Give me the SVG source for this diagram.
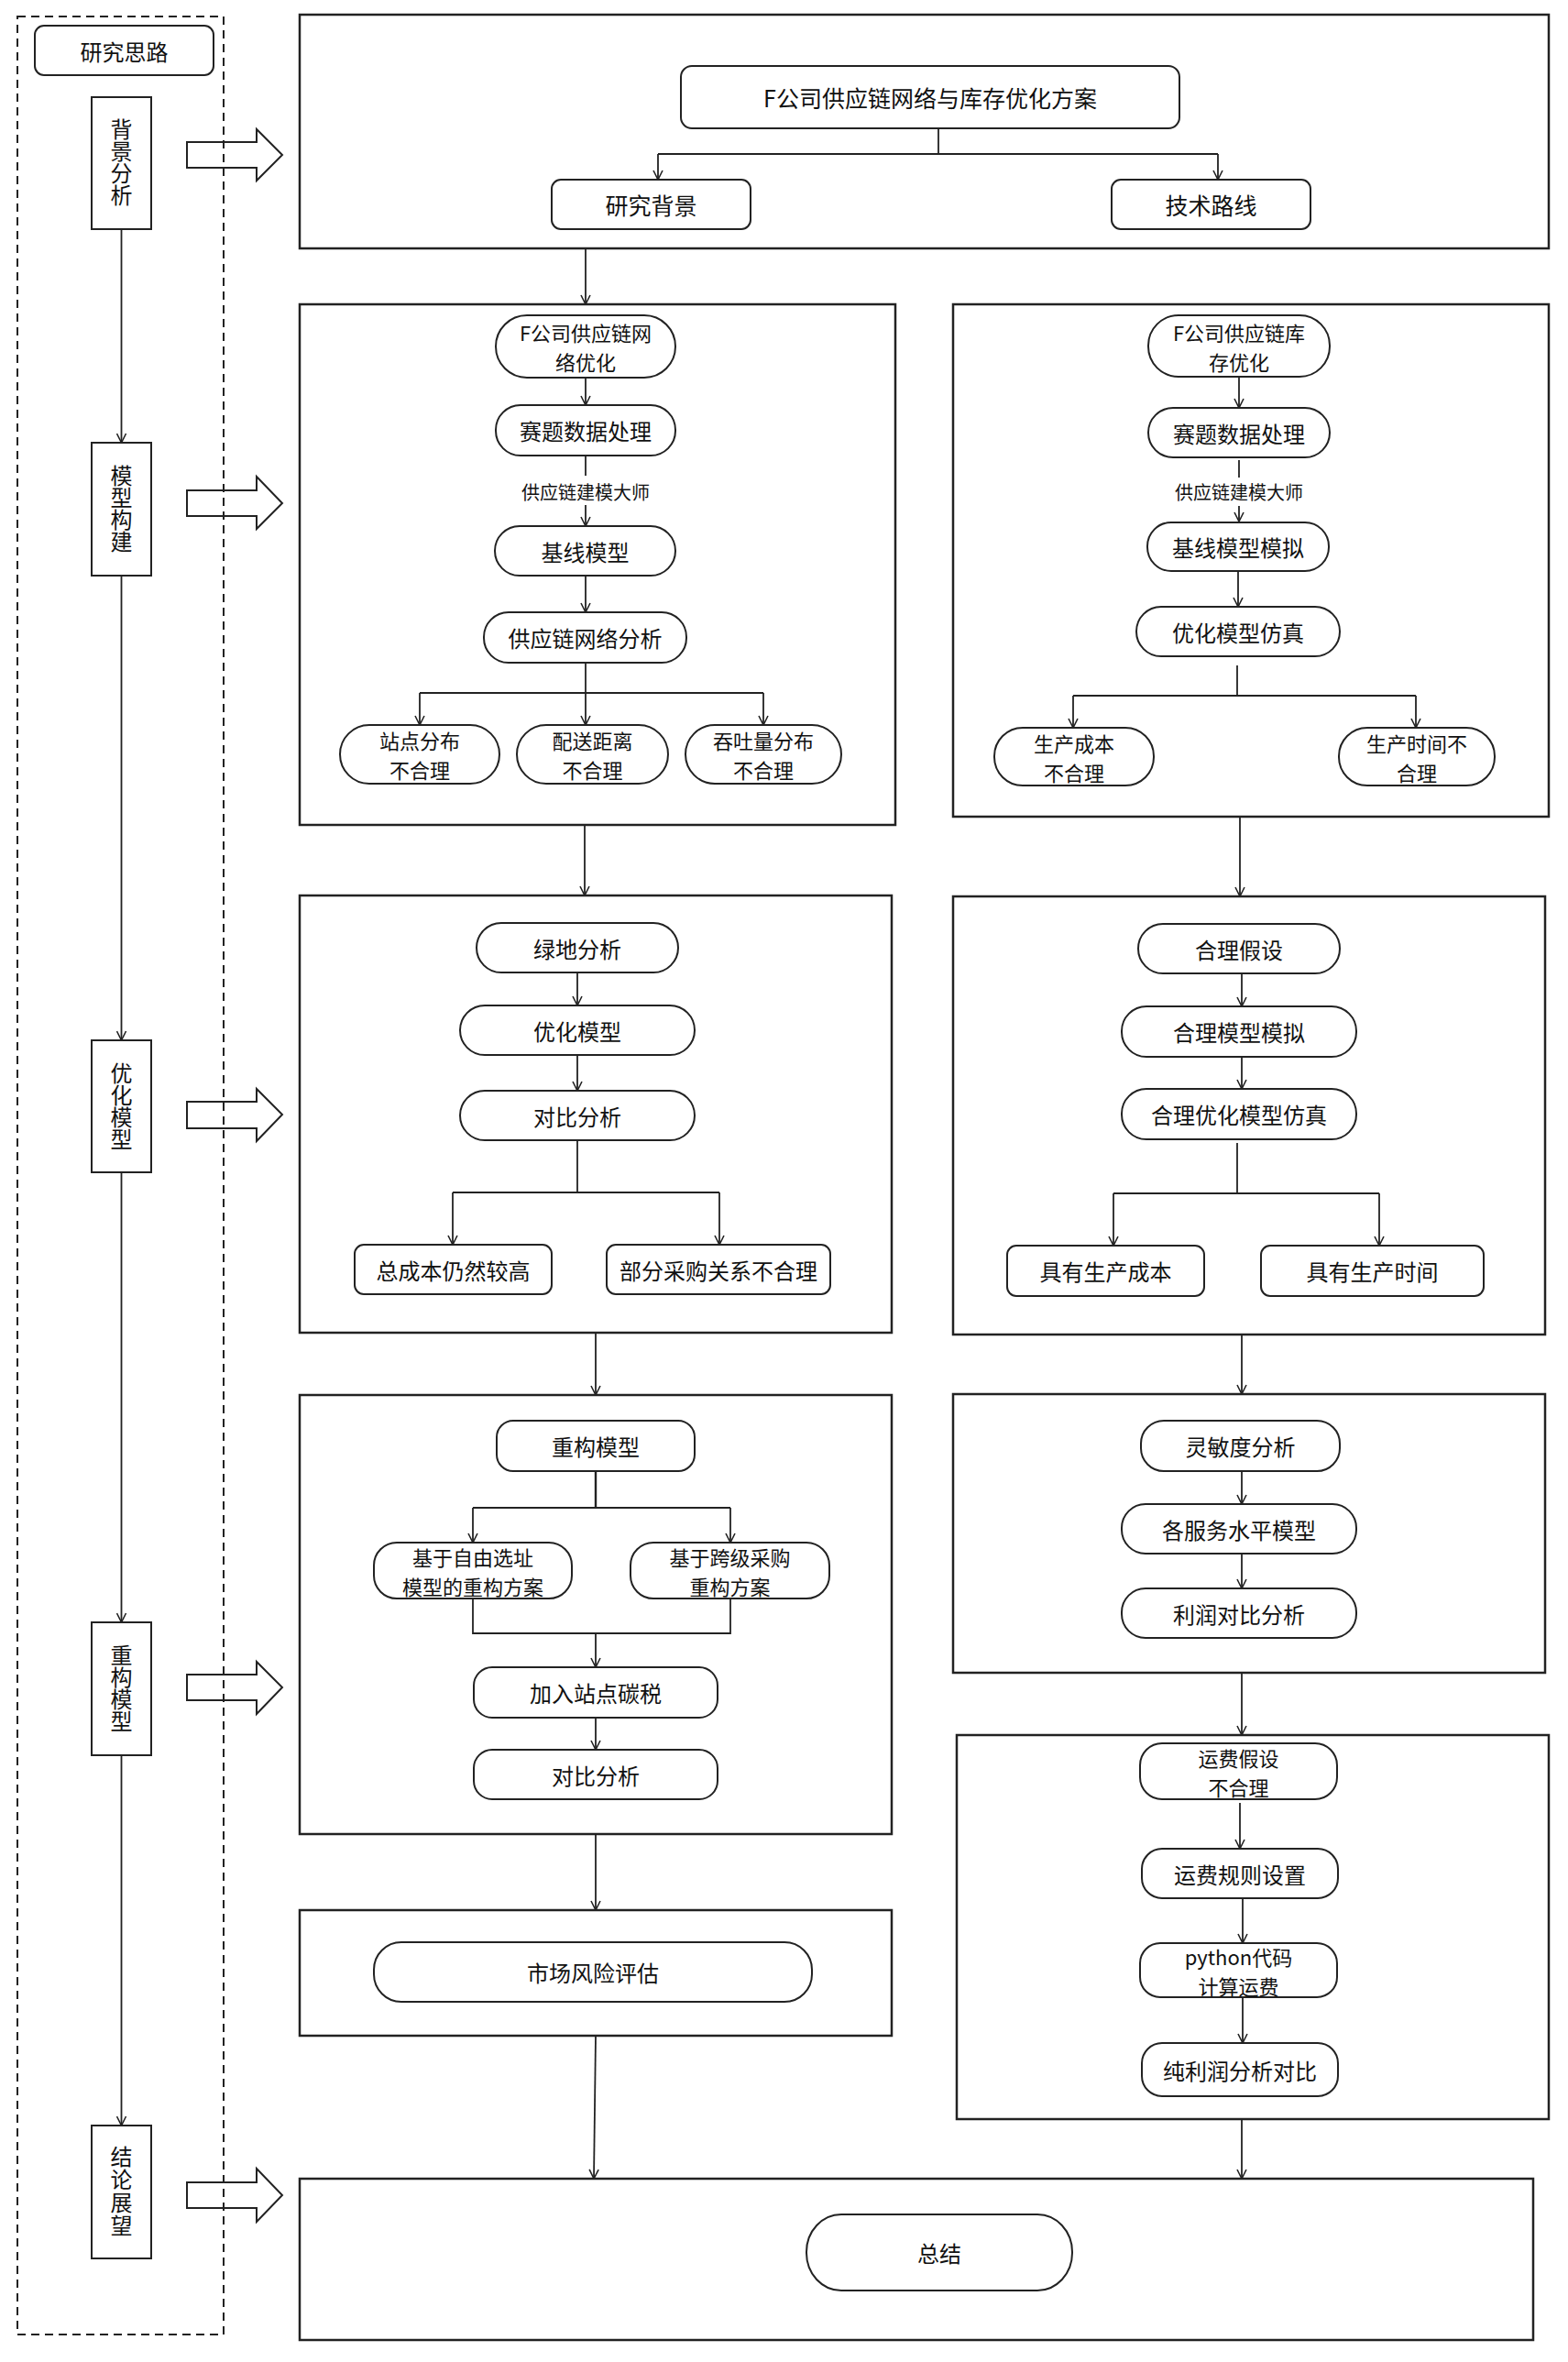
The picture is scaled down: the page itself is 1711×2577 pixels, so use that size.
<svg xmlns="http://www.w3.org/2000/svg" width="1711" height="2577" viewBox="0 0 1711 2577">
<defs>
<style>
.bg{fill:#fff}
.box{fill:none;stroke:#222;stroke-width:2.5}
.nd{fill:#fff;stroke:#222;stroke-width:2}
.side{fill:#fff;stroke:#222;stroke-width:2}
.dash{fill:none;stroke:#222;stroke-width:2;stroke-dasharray:9 6}
.blk{fill:none;stroke:#222;stroke-width:2}
.ln{fill:none;stroke:#222;stroke-width:1.8}
.ar{fill:none;stroke:#222;stroke-width:1.8;marker-end:url(#ah)}
text{font-family:"Noto Sans CJK SC","Noto Sans",sans-serif;fill:#111;text-anchor:middle;dominant-baseline:central}
.t{font-size:24px}
.t2{font-size:22px}
.tt{font-size:25px}
.s{font-size:20px}
.v{font-size:24px;writing-mode:vertical-rl}
</style>
<marker id="ah" viewBox="0 0 12 12" refX="11" refY="6" markerWidth="12" markerHeight="12" markerUnits="userSpaceOnUse" orient="auto">
<path d="M1,1 L11,6 L1,11" fill="none" stroke="#222" stroke-width="1.6"/>
</marker>
</defs>
<rect class="bg" x="0" y="0" width="1711" height="2577"/>

<!-- Left panel -->
<g id="left-panel">
<rect class="dash" x="19" y="18" width="225" height="2529"/>
</g>
<g id="n-yjsl"><rect class="nd" x="38" y="28" width="195" height="54" rx="10"/><text class="t" x="135.5" y="55">研究思路</text></g>
<g id="s-bjfx"><rect class="side" x="100" y="106" width="65" height="144"/><text class="v" x="132.5" y="177">背景分析</text></g>
<g id="s-mxgj"><rect class="side" x="100" y="483" width="65" height="145"/><text class="v" x="132.5" y="555">模型构建</text></g>
<g id="s-yhmx"><rect class="side" x="100" y="1135" width="65" height="144"/><text class="v" x="132.5" y="1207">优化模型</text></g>
<g id="s-cgmx"><rect class="side" x="100" y="1770" width="65" height="145"/><text class="v" x="132.5" y="1842">重构模型</text></g>
<g id="s-jlzw"><rect class="side" x="100" y="2319" width="65" height="145"/><text class="v" x="132.5" y="2391" style="letter-spacing:1px">结论展望</text></g>

<g id="block-arrows">
<polygon class="blk" points="204,155 280,155 280,141 308,169 280,197 280,183 204,183"/>
<polygon class="blk" points="204,535 280,535 280,520 308,549 280,577 280,563 204,563"/>
<polygon class="blk" points="204,1202 280,1202 280,1188 308,1216 280,1245 280,1231 204,1231"/>
<polygon class="blk" points="204,1827 280,1827 280,1813 308,1841 280,1870 280,1855 204,1855"/>
<polygon class="blk" points="204,2381 280,2381 280,2366 308,2395 280,2424 280,2409 204,2409"/>
</g>

<!-- Container boxes -->
<g id="containers">
<rect class="box" x="327" y="16" width="1363" height="255"/>
<rect class="box" x="327" y="332" width="650" height="568"/>
<rect class="box" x="1040" y="332" width="650" height="559"/>
<rect class="box" x="327" y="977" width="646" height="477"/>
<rect class="box" x="1040" y="978" width="646" height="478"/>
<rect class="box" x="327" y="1522" width="646" height="479"/>
<rect class="box" x="1040" y="1521" width="646" height="304"/>
<rect class="box" x="327" y="2084" width="646" height="137"/>
<rect class="box" x="1044" y="1893" width="646" height="419"/>
<rect class="box" x="327" y="2377" width="1346" height="176"/>
</g>

<!-- Top box nodes -->
<g id="n-title"><rect class="nd" x="743" y="72" width="544" height="68" rx="12"/><text class="tt" x="1015" y="106">F公司供应链网络与库存优化方案</text></g>
<g id="n-yjbj"><rect class="nd" x="602" y="196" width="217" height="54" rx="10"/><text class="tt" x="710.5" y="223">研究背景</text></g>
<g id="n-jslx"><rect class="nd" x="1213" y="196" width="217" height="54" rx="10"/><text class="tt" x="1321.5" y="223">技术路线</text></g>

<!-- Left box 2 -->
<g id="n-l1"><rect class="nd" x="541" y="344" width="196" height="68" rx="34"/><text class="t2" x="639" y="362">F公司供应链网<tspan x="639" dy="32">络优化</tspan></text></g>
<g id="n-l2"><rect class="nd" x="541" y="442" width="196" height="55" rx="27"/><text class="t" x="639" y="469.5">赛题数据处理</text></g>
<g id="n-l3"><rect class="nd" x="540" y="574" width="197" height="54" rx="27"/><text class="t" x="638.5" y="601">基线模型</text></g>
<g id="n-l4"><rect class="nd" x="528" y="668" width="221" height="55" rx="27"/><text class="t" x="638.5" y="695.5">供应链网络分析</text></g>
<g id="n-l5"><rect class="nd" x="371" y="791" width="174" height="64" rx="32"/><text class="t2" x="458" y="807">站点分布<tspan x="458" dy="32">不合理</tspan></text></g>
<g id="n-l6"><rect class="nd" x="564" y="791" width="165" height="64" rx="32"/><text class="t2" x="646.5" y="807">配送距离<tspan x="646.5" dy="32">不合理</tspan></text></g>
<g id="n-l7"><rect class="nd" x="748" y="791" width="170" height="64" rx="32"/><text class="t2" x="833" y="807">吞吐量分布<tspan x="833" dy="32">不合理</tspan></text></g>

<!-- Right box 2 -->
<g id="n-r1"><rect class="nd" x="1253" y="344" width="198" height="67" rx="33"/><text class="t2" x="1352" y="361.5">F公司供应链库<tspan x="1352" dy="32">存优化</tspan></text></g>
<g id="n-r2"><rect class="nd" x="1253" y="445" width="198" height="54" rx="27"/><text class="t" x="1352" y="472">赛题数据处理</text></g>
<g id="n-r3"><rect class="nd" x="1252" y="570" width="198" height="53" rx="26"/><text class="t" x="1351" y="596.5">基线模型模拟</text></g>
<g id="n-r4"><rect class="nd" x="1240" y="662" width="222" height="54" rx="27"/><text class="t" x="1351" y="689">优化模型仿真</text></g>
<g id="n-r5"><rect class="nd" x="1085" y="794" width="174" height="63" rx="31"/><text class="t2" x="1172" y="809.5">生产成本<tspan x="1172" dy="32">不合理</tspan></text></g>
<g id="n-r6"><rect class="nd" x="1461" y="794" width="170" height="63" rx="31"/><text class="t2" x="1546" y="809.5">生产时间不<tspan x="1546" dy="32">合理</tspan></text></g>

<!-- Left box 3 -->
<g id="n-l8"><rect class="nd" x="520" y="1007" width="220" height="54" rx="27"/><text class="t" x="630" y="1034">绿地分析</text></g>
<g id="n-l9"><rect class="nd" x="502" y="1097" width="256" height="54" rx="27"/><text class="t" x="630" y="1124">优化模型</text></g>
<g id="n-l10"><rect class="nd" x="502" y="1190" width="256" height="54" rx="27"/><text class="t" x="630" y="1217">对比分析</text></g>
<g id="n-l11"><rect class="nd" x="387" y="1358" width="215" height="54" rx="10"/><text class="t" x="494.5" y="1385">总成本仍然较高</text></g>
<g id="n-l12"><rect class="nd" x="662" y="1358" width="244" height="54" rx="10"/><text class="t" x="784" y="1385">部分采购关系不合理</text></g>

<!-- Right box 3 -->
<g id="n-r7"><rect class="nd" x="1242" y="1008" width="220" height="54" rx="27"/><text class="t" x="1352" y="1035">合理假设</text></g>
<g id="n-r8"><rect class="nd" x="1224" y="1098" width="256" height="55" rx="27"/><text class="t" x="1352" y="1125.5">合理模型模拟</text></g>
<g id="n-r9"><rect class="nd" x="1224" y="1188" width="256" height="55" rx="27"/><text class="t" x="1352" y="1215.5">合理优化模型仿真</text></g>
<g id="n-r10"><rect class="nd" x="1099" y="1359" width="215" height="55" rx="10"/><text class="t" x="1206.5" y="1386.5">具有生产成本</text></g>
<g id="n-r11"><rect class="nd" x="1376" y="1359" width="243" height="55" rx="10"/><text class="t" x="1497.5" y="1386.5">具有生产时间</text></g>

<!-- Left box 4 -->
<g id="n-l13"><rect class="nd" x="542" y="1550" width="216" height="55" rx="18"/><text class="t" x="650" y="1577.5">重构模型</text></g>
<g id="n-l14"><rect class="nd" x="408" y="1683" width="216" height="61" rx="25"/><text class="t2" x="516" y="1697.5">基于自由选址<tspan x="516" dy="32">模型的重构方案</tspan></text></g>
<g id="n-l15"><rect class="nd" x="688" y="1683" width="217" height="61" rx="25"/><text class="t2" x="796.5" y="1697.5">基于跨级采购<tspan x="796.5" dy="32">重构方案</tspan></text></g>
<g id="n-l16"><rect class="nd" x="517" y="1819" width="266" height="55" rx="20"/><text class="t" x="650" y="1846.5">加入站点碳税</text></g>
<g id="n-l17"><rect class="nd" x="517" y="1909" width="266" height="54" rx="20"/><text class="t" x="650" y="1936">对比分析</text></g>

<!-- Right box 4 -->
<g id="n-r12"><rect class="nd" x="1245" y="1550" width="217" height="55" rx="25"/><text class="t" x="1353.5" y="1577.5">灵敏度分析</text></g>
<g id="n-r13"><rect class="nd" x="1224" y="1641" width="256" height="54" rx="26"/><text class="t" x="1352" y="1668">各服务水平模型</text></g>
<g id="n-r14"><rect class="nd" x="1224" y="1733" width="256" height="54" rx="26"/><text class="t" x="1352" y="1760">利润对比分析</text></g>

<!-- Left box 5 -->
<g id="n-l18"><rect class="nd" x="408" y="2119" width="478" height="65" rx="30"/><text class="t" x="647" y="2151.5">市场风险评估</text></g>

<!-- Right box 5 -->
<g id="n-r15"><rect class="nd" x="1244" y="1902" width="215" height="61" rx="24"/><text class="t2" x="1351.5" y="1916.5">运费假设<tspan x="1351.5" dy="32">不合理</tspan></text></g>
<g id="n-r16"><rect class="nd" x="1246" y="2017" width="214" height="54" rx="22"/><text class="t" x="1353" y="2044">运费规则设置</text></g>
<g id="n-r17"><rect class="nd" x="1244" y="2120" width="215" height="59" rx="22"/><text class="t2" x="1351.5" y="2133.5">python代码<tspan x="1351.5" dy="32">计算运费</tspan></text></g>
<g id="n-r18"><rect class="nd" x="1246" y="2229" width="214" height="58" rx="22"/><text class="t" x="1353" y="2258">纯利润分析对比</text></g>

<!-- Final box -->
<g id="n-zj"><rect class="nd" x="880" y="2416" width="290" height="83" rx="38" ry="41"/><text class="t" x="1025" y="2457.5">总结</text></g>

<!-- Connectors -->
<g id="connectors">
<line class="ar" x1="132.5" y1="250" x2="132.5" y2="483"/>
<line class="ar" x1="132.5" y1="628" x2="132.5" y2="1135"/>
<line class="ar" x1="132.5" y1="1279" x2="132.5" y2="1770"/>
<line class="ar" x1="132.5" y1="1915" x2="132.5" y2="2319"/>
<polyline class="ln" points="1024,140 1024,168"/>
<polyline class="ln" points="718,168 1329,168"/>
<line class="ar" x1="718" y1="168" x2="718" y2="196"/>
<line class="ar" x1="1329" y1="168" x2="1329" y2="196"/>
<line class="ar" x1="639" y1="271" x2="639" y2="332"/>
<line class="ar" x1="639" y1="412" x2="639" y2="442"/>
<line class="ln" x1="639" y1="497" x2="639" y2="519"/>
<text class="s" x="639" y="536">供应链建模大师</text>
<line class="ar" x1="639" y1="551" x2="639" y2="574"/>
<line class="ar" x1="639" y1="628" x2="639" y2="668"/>
<line class="ln" x1="639" y1="723" x2="639" y2="756"/>
<polyline class="ln" points="458,756 833,756"/>
<line class="ar" x1="458" y1="756" x2="458" y2="791"/>
<line class="ar" x1="639" y1="756" x2="639" y2="791"/>
<line class="ar" x1="833" y1="756" x2="833" y2="791"/>
<line class="ar" x1="638" y1="900" x2="638" y2="977"/>
<line class="ar" x1="1352" y1="411" x2="1352" y2="445"/>
<line class="ln" x1="1352" y1="502" x2="1352" y2="521"/>
<text class="s" x="1352" y="536">供应链建模大师</text>
<line class="ar" x1="1352" y1="552" x2="1352" y2="569"/>
<line class="ar" x1="1351" y1="623" x2="1351" y2="662"/>
<line class="ln" x1="1350" y1="726" x2="1350" y2="759"/>
<polyline class="ln" points="1171,759 1545,759"/>
<line class="ar" x1="1171" y1="759" x2="1171" y2="794"/>
<line class="ar" x1="1545" y1="759" x2="1545" y2="794"/>
<line class="ar" x1="1353" y1="891" x2="1353" y2="978"/>
<line class="ar" x1="630" y1="1061" x2="630" y2="1097"/>
<line class="ar" x1="630" y1="1151" x2="630" y2="1190"/>
<line class="ln" x1="630" y1="1244" x2="630" y2="1301"/>
<polyline class="ln" points="494,1301 785,1301"/>
<line class="ar" x1="494" y1="1301" x2="494" y2="1358"/>
<line class="ar" x1="785" y1="1301" x2="785" y2="1358"/>
<line class="ar" x1="650" y1="1454" x2="650" y2="1522"/>
<line class="ar" x1="1355" y1="1062" x2="1355" y2="1098"/>
<line class="ar" x1="1355" y1="1153" x2="1355" y2="1188"/>
<line class="ln" x1="1350" y1="1247" x2="1350" y2="1302"/>
<polyline class="ln" points="1215,1302 1505,1302"/>
<line class="ar" x1="1215" y1="1302" x2="1215" y2="1359"/>
<line class="ar" x1="1505" y1="1302" x2="1505" y2="1359"/>
<line class="ar" x1="1355" y1="1456" x2="1355" y2="1521"/>
<line class="ln" x1="650" y1="1605" x2="650" y2="1645" style="stroke-width:2.4"/>
<polyline class="ln" points="516,1645 797,1645"/>
<line class="ar" x1="516" y1="1645" x2="516" y2="1683"/>
<line class="ar" x1="797" y1="1645" x2="797" y2="1683"/>
<polyline class="ln" points="516,1744 516,1782 797,1782 797,1744"/>
<line class="ar" x1="650" y1="1782" x2="650" y2="1819"/>
<line class="ar" x1="650" y1="1874" x2="650" y2="1909"/>
<line class="ar" x1="650" y1="2001" x2="650" y2="2084"/>
<line class="ar" x1="1355" y1="1605" x2="1355" y2="1641"/>
<line class="ar" x1="1355" y1="1695" x2="1355" y2="1733"/>
<line class="ar" x1="1355" y1="1825" x2="1355" y2="1893"/>
<line class="ar" x1="1353" y1="1967" x2="1353" y2="2017"/>
<line class="ar" x1="1356" y1="2071" x2="1356" y2="2120"/>
<line class="ar" x1="1356" y1="2179" x2="1356" y2="2229"/>
<line class="ar" x1="1355" y1="2312" x2="1355" y2="2377"/>
<line class="ar" x1="650" y1="2221" x2="648" y2="2377"/>
</g>
</svg>
